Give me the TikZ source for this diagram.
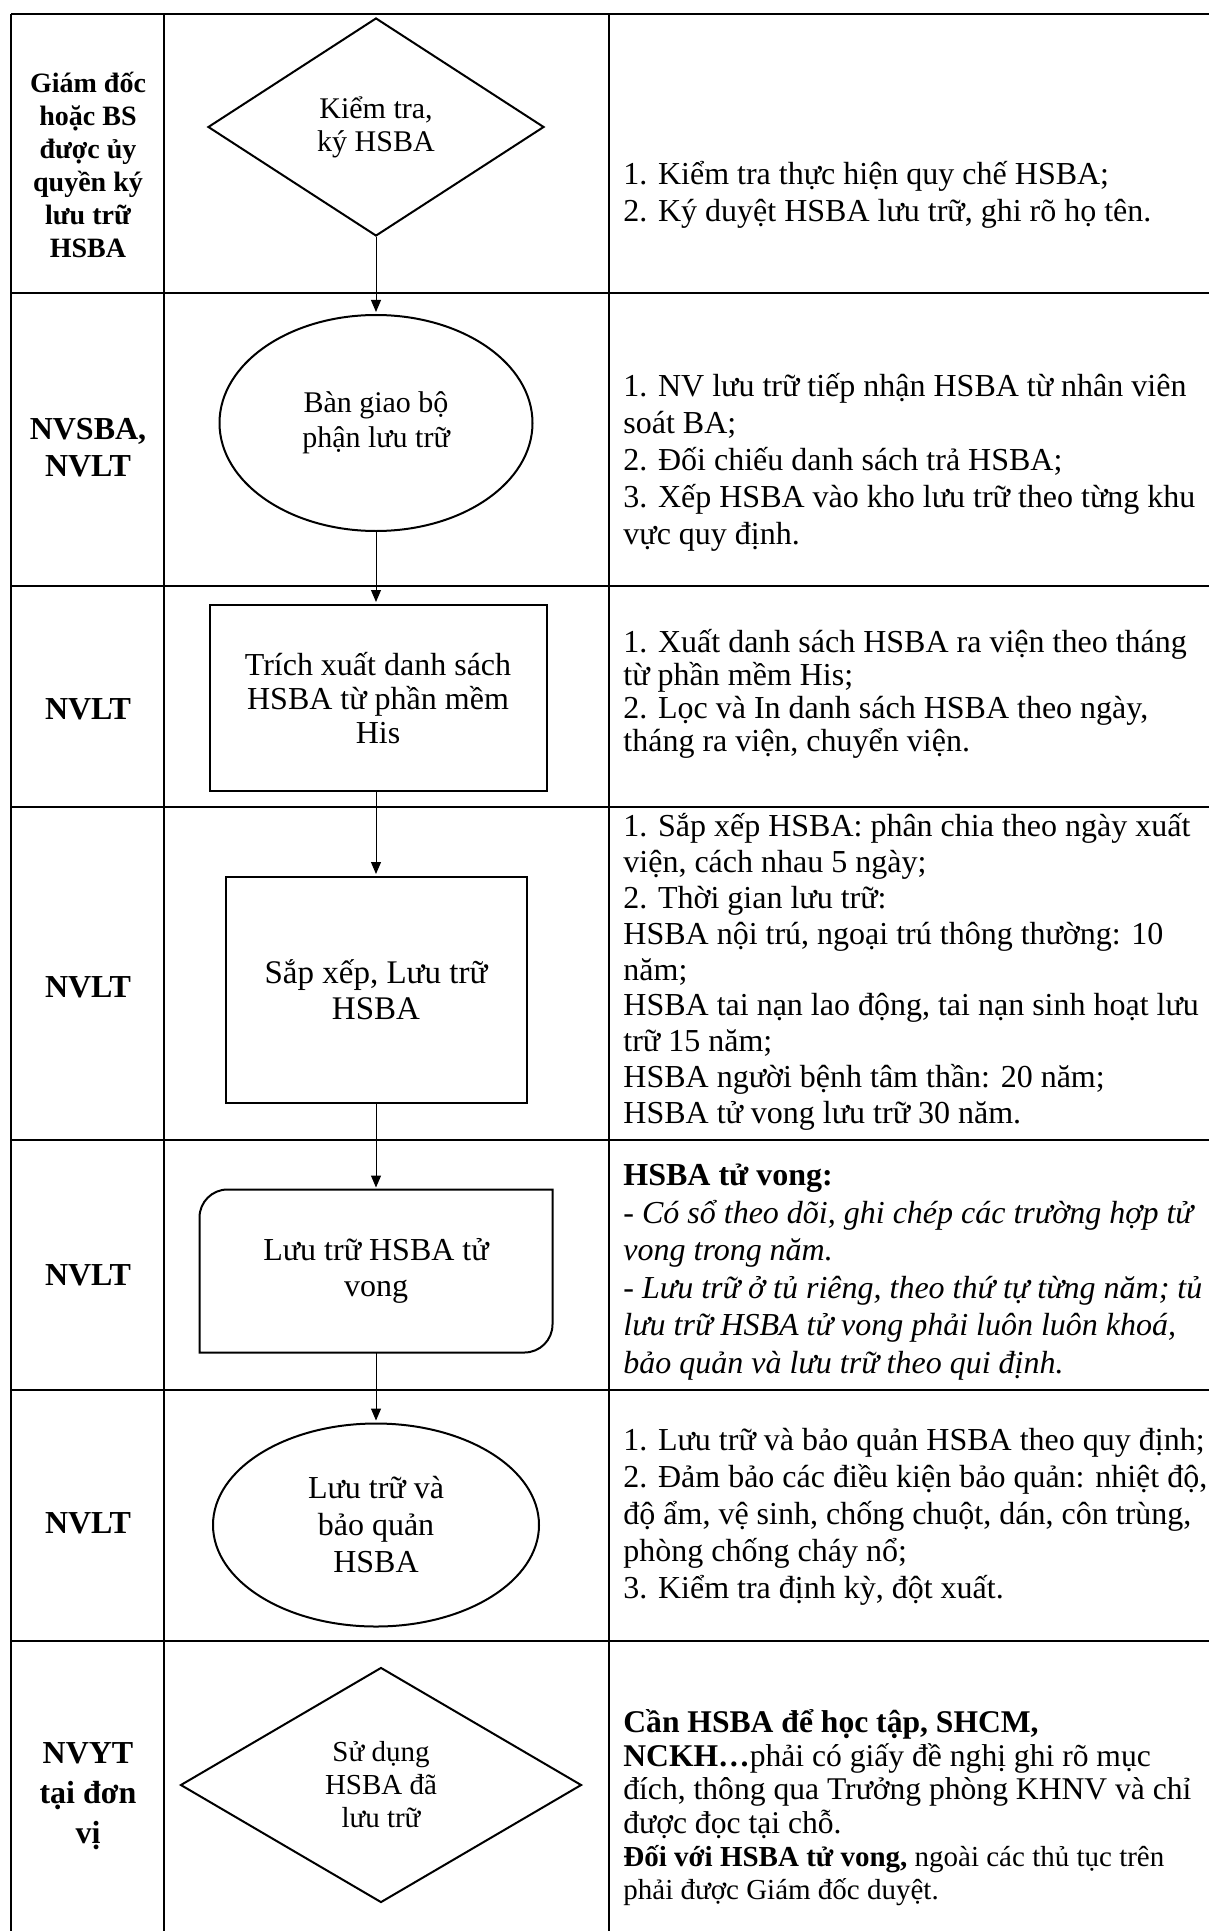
\documentclass[tikz,border=0pt]{standalone}
\usepackage{fontspec}
\setmainfont{Liberation Serif}
\usetikzlibrary{shapes.geometric,arrows.meta}

\begin{document}
\begin{tikzpicture}[x=0.5pt,y=-0.5pt,
	lane/.style={line width=1.4pt},
	sep/.style={line width=0.8pt},
	who/.style={font=\bfseries\fontsize{16}{18.5}\selectfont,align=center},
	note/.style={anchor=west,align=left,inner sep=0pt,font=\fontsize{16}{18.5}\selectfont},
	box/.style={draw,line width=1pt,align=center,inner sep=0pt},
	flow/.style={-{Triangle[length=6pt,width=5pt]},line width=0.5pt,shorten >=1pt}]
	\useasboundingbox (0,0) rectangle (1209,1931);
	\draw[lane] (11,14) -- (1209,14);
	\foreach \y in {293,586,807,1140,1390,1641}
		\draw[lane] (11,\y) -- (1209,\y);
	\foreach \x in {11,164,609}
		\draw[sep] (\x,14) -- (\x,1931);

	\node[who,font=\bfseries\fontsize{14}{16.5}\selectfont] (w1)at(88,165) {Giám đốc\\hoặc BS\\được ủy\\quyền ký\\lưu trữ\\HSBA};
	\node[who] (w2)at(88,448) {NVSBA,\\NVLT};
	\node[who] (w3)at(88,709) {NVLT};
	\node[who] (w4)at(88,987) {NVLT};
	\node[who] (w5)at(88,1275) {NVLT};
	\node[who] (w6)at(88,1523) {NVLT};
	\node[who,font=\bfseries\fontsize{16}{20}\selectfont] (w7)at(88,1796) {NVYT\\tại đơn\\vị};

	\node[box,diamond,minimum width=168pt,minimum height=109pt,font=\fontsize{15}{16.5}\selectfont] (kt)at(376,127) {Kiểm tra,\\ký HSBA};
	\node[box,ellipse,minimum width=156.5pt,minimum height=108pt,font=\fontsize{15}{17.5}\selectfont] (bg)at(376,423) {Bàn giao bộ\\phận lưu trữ};
	\node[box,rectangle,minimum width=168.5pt,minimum height=93pt,font=\fontsize{16}{16.8}\selectfont] (tx)at(378,698) {Trích xuất danh sách\\HSBA từ phần mềm\\His};
	\node[box,rectangle,minimum width=150.5pt,minimum height=113pt,font=\fontsize{16.5}{18}\selectfont] (sx)at(376,990) {Sắp xếp, Lưu trữ\\HSBA};
	\node[box,draw=none,rectangle,minimum width=175.5pt,minimum height=80.5pt,font=\fontsize{16}{18}\selectfont] (tv)at(376,1271) {Lưu trữ HSBA tử\\vong};
	\draw[line width=1pt] (tv.south west) [rounded corners=14pt] -- (tv.north west) [sharp corners] -- (tv.north east) [rounded corners=14pt] -- (tv.south east) [sharp corners] -- cycle;
	\node[box,ellipse,minimum width=163pt,minimum height=101.5pt,font=\fontsize{16}{18.5}\selectfont] (bq)at(376,1525) {Lưu trữ và\\bảo quản\\HSBA};
	\node[box,diamond,minimum width=200.5pt,minimum height=117.5pt,font=\fontsize{14.5}{16.5}\selectfont] (sd)at(381,1785) {Sử dụng\\HSBA đã\\lưu trữ};

	\draw[flow] (kt) -- (bg);
	\draw[flow] (bg) -- (bg |- tx.north);
	\draw[flow] (tx.south -| bg) -- (sx);
	\draw[flow] (sx) -- (tv);
	\draw[flow] (tv) -- (bq);

	\node[note] (n1)at(623,195) {1. Kiểm tra thực hiện quy chế HSBA;\\2. Ký duyệt HSBA lưu trữ, ghi rõ họ tên.};
	\node[note] (n2)at(623,462) {1. NV lưu trữ tiếp nhận HSBA từ nhân viên\\soát BA;\\2. Đối chiếu danh sách trả HSBA;\\3. Xếp HSBA vào kho lưu trữ theo từng khu\\vực quy định.};
	\node[note,font=\fontsize{16}{16.5}\selectfont] (n3)at(623,694) {1. Xuất danh sách HSBA ra viện theo tháng\\từ phần mềm His;\\2. Lọc và In danh sách HSBA theo ngày,\\tháng ra viện, chuyển viện.};
	\node[note,font=\fontsize{16}{17.9}\selectfont] (n4)at(623,972) {1. Sắp xếp HSBA: phân chia theo ngày xuất\\viện, cách nhau 5 ngày;\\2. Thời gian lưu trữ:\\HSBA nội trú, ngoại trú thông thường: 10\\năm;\\HSBA tai nạn lao động, tai nạn sinh hoạt lưu\\trữ 15 năm;\\HSBA người bệnh tâm thần: 20 năm;\\HSBA tử vong lưu trữ 30 năm.};
	\node[note,font=\fontsize{16}{18.8}\selectfont] (n5)at(623,1272) {\textbf{HSBA tử vong:}\\\textit{- Có sổ theo dõi, ghi chép các trường hợp tử}\\\textit{vong trong năm.}\\\textit{- Lưu trữ ở tủ riêng, theo thứ tự từng năm; tủ}\\\textit{lưu trữ HSBA tử vong phải luôn luôn khoá,}\\\textit{bảo quản và lưu trữ theo qui định.}};
	\node[note] (n6)at(623,1517) {1. Lưu trữ và bảo quản HSBA theo quy định;\\2. Đảm bảo các điều kiện bảo quản: nhiệt độ,\\độ ẩm, vệ sinh, chống chuột, dán, côn trùng,\\phòng chống cháy nổ;\\3. Kiểm tra định kỳ, đột xuất.};
	\node[note,font=\fontsize{15.8}{16.8}\selectfont] (n7)at(623,1774) {\textbf{Cần HSBA để học tập, SHCM,}\\\textbf{NCKH…}phải có giấy đề nghị ghi rõ mục\\đích, thông qua Trưởng phòng KHNV và chỉ\\được đọc tại chỗ.};
	\node[note,font=\fontsize{14.5}{16.5}\selectfont] (n7a)at(623,1876) {\textbf{Đối với HSBA tử vong,} ngoài các thủ tục trên\\phải được Giám đốc duyệt.};
\end{tikzpicture}
\end{document}
